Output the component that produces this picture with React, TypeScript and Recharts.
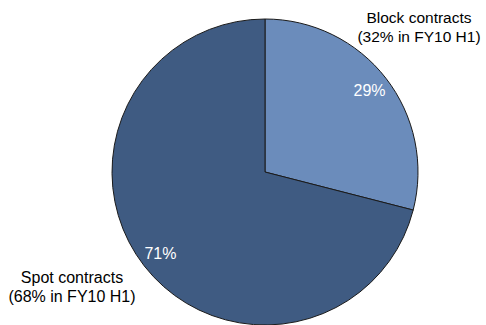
import React from 'react';
import { PieChart, Pie, Cell } from 'recharts';

const names = ['Block contracts', 'Spot contracts'];
const shares = [29, 71];
const priorLabels = ['(32% in FY10 H1)', '(68% in FY10 H1)'];
const colors = ['#6B8CBB', '#3F5B82'];

const data = names.map((name, i) => ({ name, value: shares[i], prior: priorLabels[i] }));

// where the outside captions sit relative to the pie centre
const captionOffsets = [
    { dx: 154, dy: -149, size: 15.5 },
    { dx: -193, dy: 111, size: 16 },
];

const RADIAN = Math.PI / 180;
const font = '"Liberation Sans", Arial, sans-serif';

const renderLabel = (props: any) => {
    const { cx, cy, midAngle, outerRadius, index, payload } = props;
    const r = outerRadius * 0.865;
    const x = cx + r * Math.cos(-midAngle * RADIAN);
    const y = cy + r * Math.sin(-midAngle * RADIAN);
    const off = captionOffsets[index];
    return (
        <g>
            <text x={x} y={y} fill="#ffffff" fontSize={16} fontFamily={font} textAnchor="middle" dominantBaseline="central">
                {payload.value}%
            </text>
            <text x={cx + off.dx} y={cy + off.dy} fill="#000000" fontSize={off.size} fontFamily={font} textAnchor="middle">
                <tspan x={cx + off.dx} dy="0">{payload.name}</tspan>
                <tspan x={cx + off.dx} dy="19">{payload.prior}</tspan>
            </text>
        </g>
    );
};

const App: React.FC = () => {
    return (
        <div style={{ position: 'absolute', left: 0, top: 0, width: 486, height: 325, background: '#fff' }}>
            <PieChart width={486} height={325} margin={{ top: 0, right: 0, bottom: 0, left: 0 }}>
                <Pie
                    data={data}
                    dataKey="value"
                    cx={265}
                    cy={172}
                    outerRadius={153}
                    startAngle={90}
                    endAngle={-270}
                    stroke="#1a1a1a"
                    strokeWidth={1}
                    label={renderLabel}
                    labelLine={false}
                    isAnimationActive={false}
                >
                    {data.map((d, i) => (
                        <Cell key={d.name} fill={colors[i]} />
                    ))}
                </Pie>
            </PieChart>
        </div>
    );
};

export default App;
